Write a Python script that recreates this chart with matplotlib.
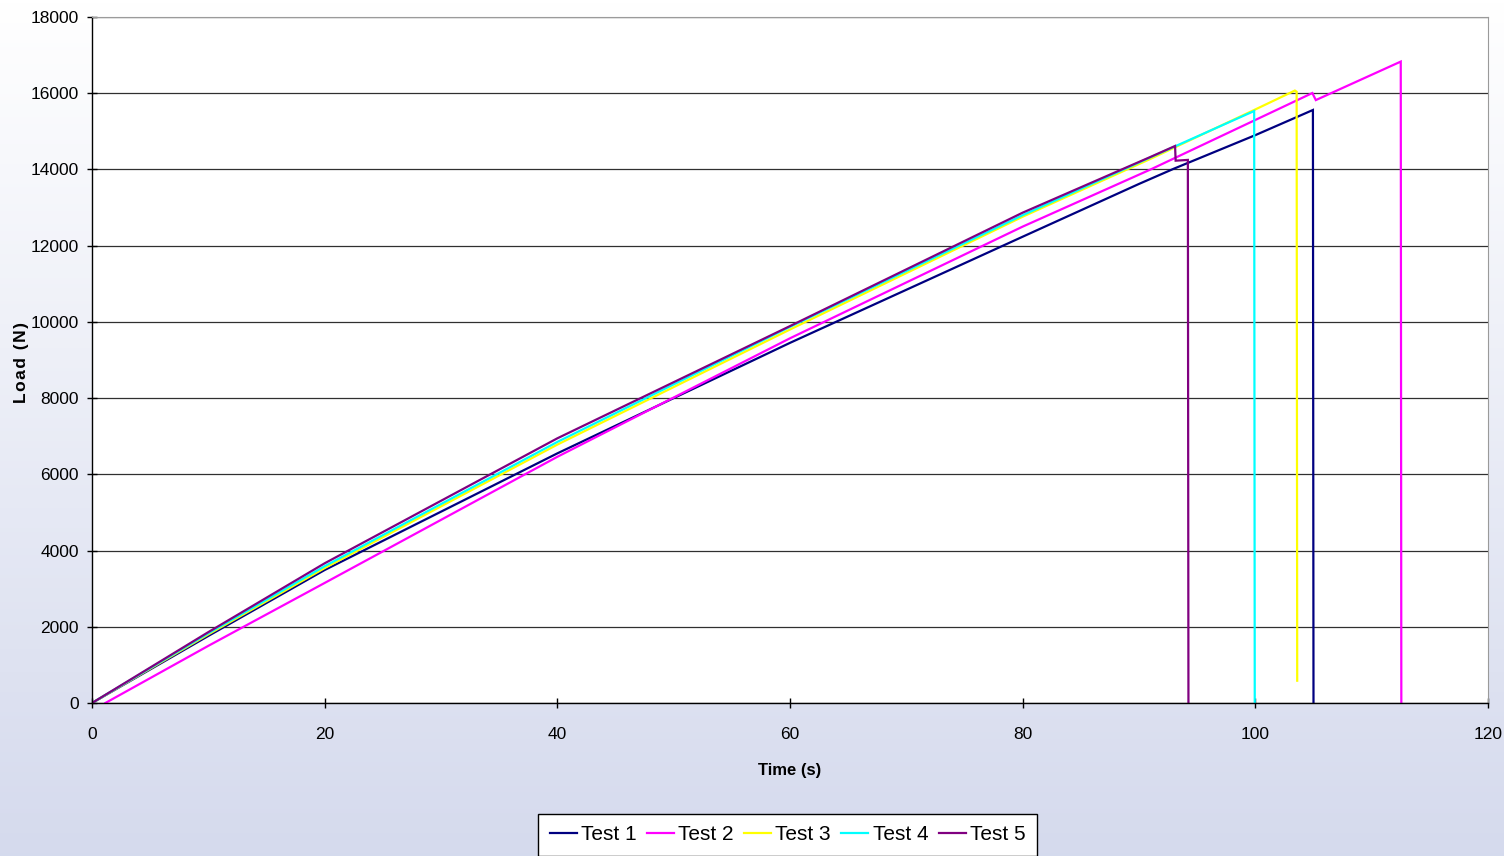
import numpy as np
import matplotlib
matplotlib.use("Agg")
import matplotlib.pyplot as plt
from matplotlib.lines import Line2D

# ---- data (time s, load N) ----
series_names = ["Test 1", "Test 2", "Test 3", "Test 4", "Test 5"]
series_colors = ["#000080", "#FF00FF", "#FFFF00", "#00FFFF", "#800080"]

t1 = [0, 10, 20, 40, 60, 80, 90, 93, 100, 104.95, 105.0]
y1 = [0, 1760, 3490, 6550, 9450, 12235, 13620, 14020, 14900, 15560, 0]

t2 = [1.15, 10, 20, 40, 60, 80, 91, 104.9, 105.2, 112.5, 112.55]
y2 = [0, 1500, 3150, 6460, 9570, 12500, 14000, 16005, 15820, 16830, 0]

t3 = [0, 10, 20, 40, 60, 80, 91, 99.9, 103.4, 103.55, 103.6]
y3 = [0, 1800, 3540, 6780, 9800, 12760, 14280, 15560, 16070, 16040, 585]

t4 = [0, 10, 20, 40, 60, 80, 91, 99.9, 99.95]
y4 = [0, 1830, 3590, 6850, 9870, 12800, 14320, 15533, 0]

t5 = [0, 10, 20, 40, 60, 80, 91, 93.1, 93.15, 94.2, 94.25]
y5 = [0, 1860, 3666, 6945, 9890, 12866, 14330, 14615, 14230, 14250, 0]

x_ticks = [0, 20, 40, 60, 80, 100, 120]
y_ticks = [0, 2000, 4000, 6000, 8000, 10000, 12000, 14000, 16000, 18000]

W, H = 1504, 856
fig = plt.figure(figsize=(W / 100, H / 100), dpi=100)

# background gradient
bg = fig.add_axes([0, 0, 1, 1], zorder=-10)
grad = np.linspace(0, 1, 256).reshape(-1, 1)
top = np.array([1.0, 1.0, 1.0])
bot = np.array([0.835, 0.855, 0.93])
img = top[None, None, :] * (1 - grad[:, :, None]) + bot[None, None, :] * grad[:, :, None]
bg.imshow(img, aspect="auto", extent=[0, 1, 0, 1], origin="upper")
bg.set_axis_off()

ax = fig.add_axes([92 / W, 1 - 703 / H, (1488 - 92) / W, (703 - 17) / H])
ax.set_facecolor("white")

data = [(t1, y1), (t2, y2), (t3, y3), (t4, y4), (t5, y5)]
for (tx, ty), name, col in zip(data, series_names, series_colors):
    ax.plot(tx, ty, color=col, lw=1.6, label=name, solid_joinstyle="miter")

ax.set_xlim(0, 120)
ax.set_ylim(0, 18000)
ax.set_xticks(x_ticks)
ax.set_yticks(y_ticks)
ax.set_xticklabels([str(v) for v in x_ticks])
ax.set_yticklabels([str(v) for v in y_ticks])

for s in ["top", "right"]:
    ax.spines[s].set_color("#9a9a9a")
    ax.spines[s].set_linewidth(0.8)
for s in ["left", "bottom"]:
    ax.spines[s].set_color("black")
    ax.spines[s].set_linewidth(1.0)

ax.yaxis.grid(True, color="#303030", lw=0.9)
ax.set_axisbelow(True)

ax.tick_params(axis="both", direction="inout", length=7, width=1, colors="black",
               labelsize=12.5)
ax.tick_params(axis="y", pad=6)
ax.tick_params(axis="x", pad=14)
for lab in ax.get_xticklabels() + ax.get_yticklabels():
    lab.set_fontfamily("Liberation Sans")

ax.set_xlabel("Time (s)", fontsize=12, fontweight="bold", family="Liberation Sans")
ax.xaxis.set_label_coords(0.5, (703 - 763) / 686)
ax.set_ylabel("L\u200ao\u200aa\u200ad\u200a \u200a(\u200aN\u200a)", fontsize=12.5, fontweight="bold",
              family=["Liberation Sans", "DejaVu Sans"])
ax.yaxis.set_label_coords((29 - 92) / 1396, (703 - 362) / 686)

handles = [Line2D([], [], color=c, lw=1.6) for c in series_colors]
leg = fig.legend(handles, series_names, loc="upper center",
                 bbox_to_anchor=(787.5 / W, 1 - 814 / H), ncol=5,
                 prop={"family": "Liberation Sans", "size": 15},
                 frameon=True, fancybox=False, edgecolor="black", facecolor="white",
                 framealpha=1, handlelength=1.3, handletextpad=0.2, columnspacing=0.5,
                 borderpad=0.55, borderaxespad=0)
leg.get_frame().set_linewidth(1.0)

fig.savefig("out.png", dpi=100)
